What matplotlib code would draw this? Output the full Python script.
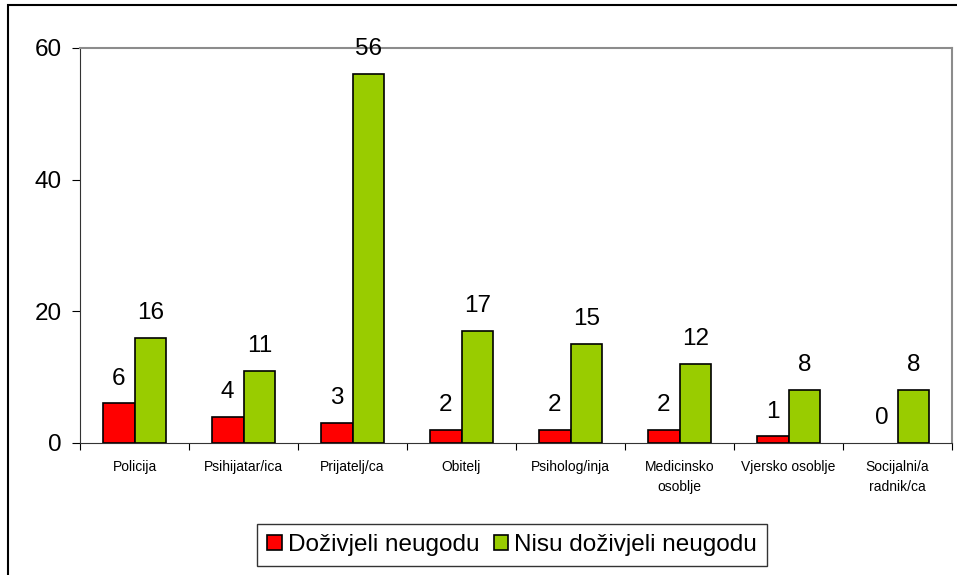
import numpy as np
import matplotlib.pyplot as plt
from matplotlib.patches import Rectangle

plt.rcParams['font.family'] = ['Liberation Sans', 'DejaVu Sans']

kategorije = ['Policija', 'Psihijatar/ica', 'Prijatelj/ca', 'Obitelj', 'Psiholog/inja',
              'Medicinsko\nosoblje', 'Vjersko osoblje', 'Socijalni/a\nradnik/ca']
dozivjeli = [6, 4, 3, 2, 2, 2, 1, 0]
nisu_dozivjeli = [16, 11, 56, 17, 15, 12, 8, 8]
serije = ['Doživjeli neugodu', 'Nisu doživjeli neugodu']

fig = plt.figure(figsize=(9.57, 5.75), dpi=100)
ax = fig.add_axes([0.0836, 0.2296, 0.9112, 0.687])

# okvir oko cijele slike
fig.patches.append(Rectangle((8 / 957, -0.1), 1.2, 1 - 5 / 575 + 0.1, transform=fig.transFigure,
                             fill=False, edgecolor='black', linewidth=1.5))

x = np.arange(len(kategorije))
w = 0.29
b1 = ax.bar(x - w / 2, dozivjeli, w, color='#ff0000', edgecolor='black', linewidth=1.2, label=serije[0])
b2 = ax.bar(x + w / 2, nisu_dozivjeli, w, color='#99cc00', edgecolor='black', linewidth=1.2, label=serije[1])

for bars in (b1, b2):
    for r in bars:
        h = r.get_height()
        if h == 0:
            r.set_linewidth(0)  # stupac s nulom se ne vidi
        ax.annotate(str(int(h)), (r.get_x() + r.get_width() / 2, h), xytext=(0, 10),
                    textcoords='offset points', ha='center', va='bottom', fontsize=17.5)

ax.set_xlim(-0.5, len(kategorije) - 0.5)
ax.set_ylim(0, 60)
ax.set_yticks([0, 20, 40, 60])
ax.tick_params(axis='y', labelsize=17.5, length=6, direction='out', pad=7)
ax.set_xticks(np.arange(len(kategorije) + 1) - 0.5)
ax.set_xticklabels([])
ax.tick_params(axis='x', length=5, direction='out')
ax.set_xticks(x, minor=True)
ax.set_xticklabels(kategorije, minor=True, fontsize=10, linespacing=1.55)
ax.tick_params(axis='x', which='minor', length=0, pad=12)

for s in ('top', 'right'):
    ax.spines[s].set_color('#8c8c8c')
    ax.spines[s].set_linewidth(1.5)
for s in ('left', 'bottom'):
    ax.spines[s].set_color('#333333')

leg = fig.legend(handles=[b1, b2], loc='center', bbox_to_anchor=(0.535, 0.052), ncol=2,
                 fontsize=17.5, frameon=True, fancybox=False, edgecolor='black',
                 handlelength=0.6, handleheight=0.6, handletextpad=0.25, columnspacing=0.6,
                 borderpad=0.4, borderaxespad=0)
leg.get_frame().set_linewidth(1)

fig.savefig('out.png', dpi=100)
